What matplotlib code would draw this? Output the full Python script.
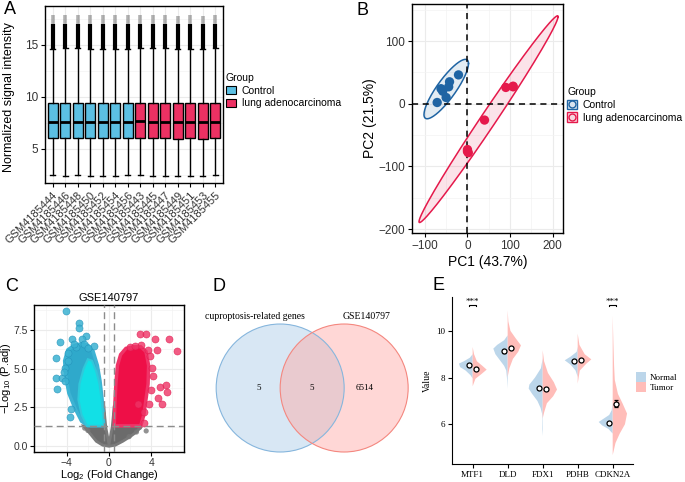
import matplotlib
matplotlib.use("Agg")
import matplotlib.pyplot as plt
import numpy as np
from matplotlib.patches import Patch, Circle, Polygon
from matplotlib.lines import Line2D

plt.rcParams['font.family'] = ['Liberation Sans', 'DejaVu Sans']
plt.rcParams['mathtext.fontset'] = 'custom'
plt.rcParams['mathtext.rm'] = 'Liberation Sans'

# ---------------- data ----------------
# A: boxplot summary per sample
samples = ["GSM4185444", "GSM4185446", "GSM4185448", "GSM4185450", "GSM4185452",
           "GSM4185454", "GSM4185456", "GSM4185443", "GSM4185445", "GSM4185447",
           "GSM4185449", "GSM4185451", "GSM4185453", "GSM4185455"]
sample_group = ["Control"] * 7 + ["lung adenocarcinoma"] * 7
box_q1 = [6.03, 6.05, 6.06, 6.02, 6.05, 6.02, 6.05, 6.06, 6.05, 6.05, 5.98, 6.0, 5.98, 6.05]
box_med = [7.6, 7.6, 7.62, 7.6, 7.6, 7.6, 7.6, 7.65, 7.62, 7.62, 7.55, 7.55, 7.55, 7.62]
box_q3 = [9.42, 9.45, 9.45, 9.42, 9.43, 9.42, 9.43, 9.45, 9.45, 9.45, 9.38, 9.4, 9.38, 9.45]
box_lo = [2.45, 2.42, 2.43, 2.42, 2.42, 2.42, 2.48, 2.43, 2.42, 2.42, 2.42, 2.42, 2.42, 2.5]
box_hi = [14.64, 14.66, 14.66, 14.64, 14.65, 14.64, 14.65, 14.66, 14.66, 14.66, 14.6, 14.62, 14.6, 14.66]
flier_dense = [17.0] * 14
flier_max = [17.9, 17.9, 17.9, 17.85, 17.9, 17.85, 17.9, 17.9, 17.9, 17.9, 17.8, 17.85, 17.8, 17.9]

# B: PCA scores
pc1_ctrl = [-71, -62, -58, -44, -42, -50, -21]
pc2_ctrl = [2, 24, 20, 27, 35, 10, 46]
pc1_tum = [0, 2, 40, 90, 107, 0, 107]
pc2_tum = [-73, -78, -26, 26, 28, -76, 27]

# C: volcano - outer points read individually, dense clouds as outlines
down_x = [-4.03, -2.86, -2.86, -4.67, -3.55, -2.19, -4.98, -4.98, -4.89, -4.41, -4.19,
          -3.65, -3.87, -3.08, -1.43, -4.19, -3.3, -2.6, -3.9, -2.4, -4.3, -3.6, -2.0]
down_y = [8.73, 7.96, 7.6, 6.73, 6.88, 7.1, 5.66, 4.37, 3.66, 4.37, 5.01,
          1.89, 5.98, 6.41, 6.45, 4.2, 6.6, 6.9, 5.5, 6.6, 4.8, 2.4, 6.3]
up_x = [5.65, 6.44, 4.38, 2.95, 3.49, 4.86, 5.43, 5.49, 4.6, 5.01, 3.75, 3.33,
        2.79, 4.07, 4.54, 2.0, 3.0, 3.7, 4.2, 2.5, 3.9, 4.0, 3.3]
up_y = [6.88, 6.13, 6.88, 7.2, 7.2, 3.83, 3.94, 3.5, 3.08, 2.71, 2.69, 1.46,
        2.71, 5.01, 6.19, 6.41, 6.5, 6.2, 4.5, 6.45, 5.8, 3.6, 2.2]
ns_x = [3.52, 2.6, 2.9, -2.3, 1.9, -2.0]
ns_y = [0.97, 0.9, 1.2, 1.15, 0.6, 1.0]
down_shell_x = [-2.0, -2.6, -3.2, -3.8, -4.1, -4.2, -3.9, -3.3, -2.6, -2.0, -1.5, -1.1, -0.85, -0.65, -0.55, -0.5]
down_shell_y = [1.3, 1.6, 2.4, 3.4, 4.5, 5.5, 6.2, 6.5, 6.6, 6.5, 6.1, 5.2, 4.2, 3.0, 2.0, 1.3]
down_core_x = [-2.1, -2.6, -2.9, -2.8, -2.4, -2.0, -1.6, -1.2, -0.9, -0.7, -0.55, -0.5]
down_core_y = [1.3, 2.0, 3.0, 4.0, 5.0, 5.6, 5.5, 4.8, 4.0, 3.0, 2.0, 1.3]
up_core_x = [0.5, 0.55, 0.65, 0.8, 1.1, 1.6, 2.3, 3.0, 3.5, 3.75, 3.7, 3.5, 3.3, 3.0]
up_core_y = [1.3, 2.6, 4.0, 5.2, 5.9, 6.3, 6.4, 6.4, 6.1, 5.2, 4.0, 3.0, 2.0, 1.3]
ns_core_x = [-2.4, -1.8, -1.2, -0.6, 0, 0.6, 1.3, 2.0, 2.6, 3.0, 2.8, 0.5, 0.5, 0.3, 0, -0.3, -0.5, -0.5]
ns_core_y = [1.3, 0.8, 0.3, 0.05, -0.02, 0.05, 0.3, 0.6, 0.9, 1.2, 1.3, 1.3, 2.6, 1.2, 0.1, 1.2, 2.6, 1.3]
fc_cut = 0.5
p_cut = 1.3

# D: Venn counts
venn_names = ["cuproptosis-related genes", "GSE140797"]
venn_counts = [5, 5, 6514]

# E: split violins, half-width profiles (value, half width)
genes = ["MTF1", "DLD", "FDX1", "PDHB", "CDKN2A"]
normal_prof = [
    ([9.0, 8.85, 8.7, 8.6, 8.45, 8.3, 8.1, 7.96], [0, 0.08, 0.25, 0.39, 0.36, 0.2, 0.06, 0]),
    ([9.81, 9.6, 9.4, 9.24, 9.0, 8.74, 8.5, 8.3, 7.9, 7.53], [0, 0.1, 0.3, 0.41, 0.35, 0.22, 0.1, 0.04, 0.015, 0]),
    ([8.81, 8.4, 8.0, 7.7, 7.53, 7.3, 7.0, 6.7, 6.47, 6.3, 5.8, 5.5], [0, 0.05, 0.22, 0.38, 0.4, 0.3, 0.15, 0.06, 0.02, 0.01, 0.015, 0]),
    ([9.31, 9.1, 8.9, 8.74, 8.55, 8.3, 8.03], [0, 0.03, 0.2, 0.37, 0.2, 0.06, 0]),
    ([6.9, 6.6, 6.4, 6.2, 6.1, 5.95, 5.8, 5.6], [0, 0.03, 0.1, 0.3, 0.4, 0.3, 0.12, 0]),
]
tumor_prof = [
    ([9.31, 9.0, 8.7, 8.5, 8.34, 8.15, 7.95, 7.63], [0, 0.04, 0.12, 0.28, 0.4, 0.25, 0.08, 0]),
    ([10.88, 10.4, 10.0, 9.7, 9.38, 9.1, 8.8, 8.4, 8.03], [0, 0.02, 0.08, 0.22, 0.38, 0.3, 0.15, 0.05, 0]),
    ([9.17, 8.7, 8.2, 7.8, 7.49, 7.2, 6.9, 6.5, 6.25], [0, 0.04, 0.15, 0.32, 0.41, 0.3, 0.12, 0.04, 0]),
    ([9.88, 9.4, 9.0, 8.78, 8.6, 8.3, 7.74], [0, 0.05, 0.2, 0.39, 0.25, 0.06, 0]),
    ([10.66, 9.5, 8.5, 7.9, 7.3, 6.9, 6.46, 6.0, 5.6, 5.2, 4.68], [0, 0.02, 0.04, 0.06, 0.15, 0.28, 0.41, 0.35, 0.2, 0.08, 0]),
]
normal_mean = [8.53, 9.12, 7.57, 8.71, 6.04]
tumor_mean = [8.35, 9.28, 7.51, 8.77, 6.89]
normal_err = [0.04, 0.05, 0.04, 0.03, 0.04]
tumor_err = [0.04, 0.05, 0.04, 0.03, 0.15]
signif = ["***", "", "", "", "***"]

# ---------------- figure ----------------
W, H = 685, 482
fig = plt.figure(figsize=(W / 100, H / 100), dpi=100)


def px_axes(l, t, r, b):
    return fig.add_axes([l / W, 1 - b / H, (r - l) / W, (b - t) / H])


def gg_grid(ax):
    ax.grid(True, which='major', color='#EBEBEB', lw=0.8, zorder=0)
    ax.grid(True, which='minor', color='#F3F3F3', lw=0.5, zorder=0)
    ax.set_axisbelow(True)
    for s in ax.spines.values():
        s.set_color('black')
        s.set_linewidth(1.0)
    ax.tick_params(which='minor', length=0)
    ax.tick_params(which='major', length=3, color='black', labelsize=8.5, labelcolor='#333333', pad=2)


ctrl_col = "#5CC0E3"
tum_col = "#EC3163"

# ---- A ----
axA = px_axes(45, 6, 223, 183)
stats = []
for i in range(len(samples)):
    stats.append(dict(med=box_med[i], q1=box_q1[i], q3=box_q3[i],
                      whislo=box_lo[i], whishi=box_hi[i], fliers=[]))
pos = np.arange(1, len(samples) + 1)
bp = axA.bxp(stats, positions=pos, widths=0.8, patch_artist=True, showfliers=False,
             boxprops=dict(edgecolor='black', lw=1.0),
             medianprops=dict(color='black', lw=2.0),
             whiskerprops=dict(color='black', lw=1.0),
             capprops=dict(color='black', lw=1.0), capwidths=0.4)
for patch, g in zip(bp['boxes'], sample_group):
    patch.set_facecolor(ctrl_col if g == "Control" else tum_col)
for i in range(len(samples)):
    axA.vlines(pos[i], box_hi[i], flier_dense[i], color='black', lw=3.0, zorder=3, capstyle='butt')
    axA.vlines(pos[i], flier_dense[i], flier_max[i], color='#666666', lw=2.6, alpha=0.5, zorder=3, capstyle='butt')
axA.set_xlim(0.4, 14.6)
axA.set_ylim(1.7, 18.75)
axA.set_yticks([5, 10, 15])
axA.set_yticks([2.5, 7.5, 12.5, 17.5], minor=True)
axA.set_xticks(pos)
axA.set_xticklabels(samples, rotation=45, ha='right', rotation_mode='anchor')
gg_grid(axA)
axA.tick_params(axis='x', labelsize=8.0)
axA.set_ylabel("Normalized signal intensity", fontsize=9.0)
axA.yaxis.set_label_coords(-0.17, 0.485)
legA = fig.legend(handles=[Patch(facecolor=ctrl_col, edgecolor='black', lw=0.8),
                           Patch(facecolor=tum_col, edgecolor='black', lw=0.8)],
                  labels=["Control", "lung adenocarcinoma"], title="Group",
                  loc='upper left', bbox_to_anchor=(226 / W, 1 - 73 / H), frameon=False,
                  fontsize=7.5, title_fontsize=7.5, handlelength=1.0, handleheight=0.8,
                  handletextpad=0.5, labelspacing=0.25, borderaxespad=0, borderpad=0)
legA._legend_box.align = 'left'

# ---- B ----
axB = px_axes(412, 4, 563, 233)
bl_col = "#1F64A3"
rd_col = "#E5194B"


def conf_ellipse(x, y, level_f=5.1433):
    # ggplot stat_ellipse(type = "norm"): radius sqrt(2 * qf(0.95, 2, n - 1))
    x = np.asarray(x, float)
    y = np.asarray(y, float)
    cov = np.cov(x, y)
    r = np.sqrt(2 * level_f)
    chol = np.linalg.cholesky(cov)
    t = np.linspace(0, 2 * np.pi, 200)
    circ = np.vstack([np.cos(t), np.sin(t)])
    pts = chol @ circ * r
    return x.mean() + pts[0], y.mean() + pts[1]


for xs, ys, c in [(pc1_ctrl, pc2_ctrl, bl_col), (pc1_tum, pc2_tum, rd_col)]:
    ex, ey = conf_ellipse(xs, ys)
    axB.fill(ex, ey, facecolor=c, alpha=0.12, zorder=2)
    axB.plot(ex, ey, color=c, lw=1.1, zorder=3)
    axB.scatter(xs, ys, s=45, color=c, zorder=4, edgecolors='none')
axB.axhline(0, color='black', ls=(0, (4, 3)), lw=1.1, zorder=3)
axB.axvline(0, color='black', ls=(0, (4, 3)), lw=1.1, zorder=3)
axB.set_xlim(-130, 224)
axB.set_ylim(-206, 159)
axB.set_xticks([-100, 0, 100, 200])
axB.set_xticks([-50, 50, 150], minor=True)
axB.set_yticks([-200, -100, 0, 100])
axB.set_yticks([-150, -50, 50, 150], minor=True)
gg_grid(axB)
axB.set_xlabel("PC1 (43.7%)", fontsize=10, labelpad=2)
axB.set_ylabel("PC2 (21.5%)", fontsize=10, labelpad=1)
hB = [(Patch(facecolor=bl_col, alpha=0.15, edgecolor='none'),
       Patch(facecolor='none', edgecolor=bl_col, lw=1.0),
       Line2D([], [], marker='o', ls='none', markersize=5, markerfacecolor='#D8E3EF', markeredgecolor=bl_col)),
      (Patch(facecolor=rd_col, alpha=0.15, edgecolor='none'),
       Patch(facecolor='none', edgecolor=rd_col, lw=1.0),
       Line2D([], [], marker='o', ls='none', markersize=5, markerfacecolor='#F6D6DE', markeredgecolor=rd_col))]
legB = fig.legend(handles=hB, labels=["Control", "lung adenocarcinoma"], title="Group",
                  loc='upper left', bbox_to_anchor=(567 / W, 1 - 87 / H), frameon=False,
                  fontsize=7.5, title_fontsize=7.5, handlelength=1.0, handleheight=1.0,
                  handletextpad=0.5, labelspacing=0.25, borderaxespad=0, borderpad=0)
legB._legend_box.align = 'left'

# ---- C ----
axC = px_axes(34, 305, 184, 452)
axC.add_patch(Polygon(np.column_stack([ns_core_x, ns_core_y]), closed=True,
                      facecolor='#6B6B6B', edgecolor='#7A7A7A', lw=2.0, zorder=2))
axC.scatter(ns_x, ns_y, s=14, color='#777777', alpha=0.8, edgecolors='none', zorder=2)
axC.add_patch(Polygon(np.column_stack([down_shell_x, down_shell_y]), closed=True,
                      facecolor='#2FA9CB', edgecolor='#3DB3D3', lw=2.5, zorder=3))
axC.add_patch(Polygon(np.column_stack([down_core_x, down_core_y]), closed=True,
                      facecolor='#12E0E6', edgecolor='#30C8DA', lw=1.5, zorder=3))
axC.add_patch(Polygon(np.column_stack([up_core_x, up_core_y]), closed=True,
                      facecolor='#EE0F47', edgecolor='#EF3467', lw=2.5, zorder=3))
axC.scatter(down_x, down_y, s=26, facecolor='#3BB2D2', edgecolors='#2290B8', lw=0.4, alpha=0.85, zorder=4)
axC.scatter(up_x, up_y, s=26, facecolor='#EE3366', edgecolors='#E0184C', lw=0.4, alpha=0.8, zorder=4)
axC.axvline(-fc_cut, color='#8C8C8C', ls=(0, (5, 3)), lw=1.0, zorder=5)
axC.axvline(fc_cut, color='#8C8C8C', ls=(0, (5, 3)), lw=1.0, zorder=5)
axC.axhline(p_cut, color='#8C8C8C', ls=(0, (5, 3)), lw=1.0, zorder=5)
axC.set_xlim(-7.1, 7.1)
axC.set_ylim(-0.39, 9.1)
axC.set_xticks([-4, 0, 4])
axC.set_xticks([-6, -2, 2, 6], minor=True)
axC.set_yticks([0, 2.5, 5.0, 7.5])
axC.set_yticklabels(["0.0", "2.5", "5.0", "7.5"])
axC.set_yticks([1.25, 3.75, 6.25, 8.75], minor=True)
gg_grid(axC)
axC.tick_params(labelsize=7.5, pad=1.5)
axC.set_title("GSE140797", fontsize=8, pad=3)
axC.set_xlabel(r"Log$_2$ (Fold Change)", fontsize=8, labelpad=0)
axC.set_ylabel(r"$-$Log$_{10}$ (P.adj)", fontsize=8, labelpad=0)

# ---- D ----
axD = px_axes(206, 300, 420, 470)
axD.set_xlim(-1.659, 1.685)
axD.set_ylim(-1.281, 1.375)
axD.set_aspect('equal', adjustable='box')
axD.axis('off')
axD.add_patch(Circle((-0.5, 0), 1.0, facecolor='#A9CBE7', alpha=0.45, edgecolor='none'))
axD.add_patch(Circle((0.5, 0), 1.0, facecolor='#FFA8A4', alpha=0.45, edgecolor='none'))
axD.add_patch(Circle((-0.5, 0), 1.0, facecolor='none', edgecolor='#86B6DD', lw=0.8))
axD.add_patch(Circle((0.5, 0), 1.0, facecolor='none', edgecolor='#F4877F', lw=0.8))
serif = ['Liberation Serif', 'DejaVu Serif']
axD.text(-0.893, 1.125, venn_names[0], ha='center', va='center', fontsize=7, family=serif)
axD.text(0.857, 1.125, venn_names[1], ha='center', va='center', fontsize=7, family=serif)
for xx, n in zip([-0.83, 0.0, 0.825], venn_counts):
    axD.text(xx, 0, str(n), ha='center', va='center', fontsize=6.5, family=serif)

# ---- E ----
axE = px_axes(452, 297, 633, 464)
nrm_col = "#BCD6EA"
tmr_col = "#FFBDB9"
for i in range(len(genes)):
    p = i + 1
    yv, wv = normal_prof[i]
    axE.fill_betweenx(yv, p - np.array(wv), p, facecolor=nrm_col, edgecolor='none', zorder=2)
    yv, wv = tumor_prof[i]
    axE.fill_betweenx(yv, p, p + np.array(wv), facecolor=tmr_col, edgecolor='none', zorder=2)
    axE.errorbar(p - 0.1, normal_mean[i], yerr=normal_err[i], fmt='o', ms=3.6,
                 mfc='white', mec='black', mew=0.9, ecolor='black', elinewidth=0.9, capsize=1.5, zorder=4)
    axE.errorbar(p + 0.1, tumor_mean[i], yerr=tumor_err[i], fmt='o', ms=3.6,
                 mfc='white', mec='black', mew=0.9, ecolor='black', elinewidth=0.9, capsize=1.5, zorder=4)
    if signif[i]:
        axE.plot([p - 0.1, p - 0.1, p + 0.1, p + 0.1], [11.05, 11.1, 11.1, 11.05], color='black', lw=0.8)
        axE.text(p, 11.08, signif[i], ha='center', va='bottom', fontsize=6.5, family=serif)
axE.set_xlim(0.41, 5.58)
axE.set_ylim(4.3, 11.45)
axE.set_xticks(range(1, len(genes) + 1))
axE.set_xticklabels(genes, family=serif)
axE.set_yticks([6, 8, 10])
axE.set_yticklabels(["6", "8", "10"], family=serif)
axE.spines['top'].set_visible(False)
axE.spines['right'].set_visible(False)
axE.tick_params(labelsize=6.5, length=3, pad=2)
axE.set_ylabel("Value", fontsize=7, family=serif, labelpad=3)
fig.legend(handles=[Patch(facecolor=nrm_col), Patch(facecolor=tmr_col)],
           labels=["Normal", "Tumor"], loc='upper left', bbox_to_anchor=(636 / W, 1 - 372 / H),
           frameon=False, prop=dict(family=serif, size=6.5), handlelength=1.1, handleheight=1.3,
           handletextpad=0.4, labelspacing=0.0, borderaxespad=0, borderpad=0)

# panel letters
for lab, x, y in [("A", 4, 1), ("B", 356, 2), ("C", 5, 278), ("D", 213, 278), ("E", 432, 277)]:
    fig.text(x / W, 1 - y / H, lab, fontsize=13, va='top', ha='left')

fig.savefig("out.png", dpi=100)
